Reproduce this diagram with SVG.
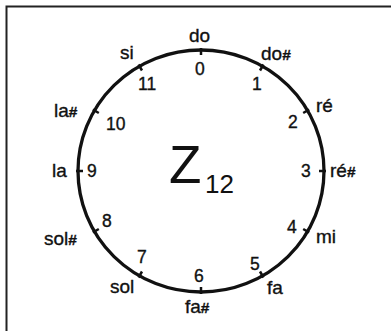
<svg xmlns="http://www.w3.org/2000/svg" width="391" height="331" viewBox="0 0 391 331">
<style>
.lbl{font-family:"Liberation Sans",Arial,sans-serif;font-size:19px;fill:#111;stroke:#111;stroke-width:0.35}
.num{font-family:"Liberation Sans",Arial,sans-serif;font-size:17.5px;fill:#111;stroke:#111;stroke-width:0.35}
.sh{font-weight:bold;font-size:15.5px}
.tick{stroke:#111;stroke-width:2.5;stroke-linecap:butt}
</style>
<rect width="391" height="331" fill="#fff"/>
<path d="M6.5,331 V6.5 H391" fill="none" stroke="#222" stroke-width="2"/>
<g id="circle">
<ellipse cx="201" cy="171" rx="123" ry="121" fill="none" stroke="#111" stroke-width="3.3"/>
</g>
<g id="title">
<text x="169" y="183" font-family="Liberation Sans,Arial,sans-serif" font-size="53" fill="#111">Z</text>
<text x="205" y="193" font-family="Liberation Sans,Arial,sans-serif" font-size="26" fill="#111">12</text>
</g>
<g id="connectors">
<line class="tick" x1="201" y1="48" x2="201" y2="55"/>
<line class="tick" x1="263.5" y1="64.5" x2="260" y2="70.5"/>
<line class="tick" x1="309.2" y1="109.5" x2="303.2" y2="113"/>
<line class="tick" x1="326" y1="171" x2="319" y2="171"/>
<line class="tick" x1="309.2" y1="232.5" x2="303.2" y2="229"/>
<line class="tick" x1="263.5" y1="277.5" x2="260" y2="271.5"/>
<line class="tick" x1="201" y1="294" x2="201" y2="287"/>
<line class="tick" x1="138.5" y1="277.5" x2="142" y2="271.5"/>
<line class="tick" x1="92.8" y1="232.5" x2="98.8" y2="229"/>
<line class="tick" x1="76" y1="171" x2="83" y2="171"/>
<line class="tick" x1="92.8" y1="109.5" x2="98.8" y2="113"/>
<line class="tick" x1="138.5" y1="64.5" x2="142" y2="70.5"/>
</g>
<g id="n0"><text class="lbl" x="189" y="42">do</text><text class="num" x="195" y="75">0</text></g>
<g id="n1"><text class="lbl" x="261" y="60">do<tspan class="sh">#</tspan></text><text class="num" x="252" y="90">1</text></g>
<g id="n2"><text class="lbl" x="316" y="112">ré</text><text class="num" x="288" y="128">2</text></g>
<g id="n3"><text class="lbl" x="330" y="177">ré<tspan class="sh">#</tspan></text><text class="num" x="301" y="177">3</text></g>
<g id="n4"><text class="lbl" x="316" y="243">mi</text><text class="num" x="287" y="233">4</text></g>
<g id="n5"><text class="lbl" x="267" y="294">fa</text><text class="num" x="250" y="270">5</text></g>
<g id="n6"><text class="lbl" x="185" y="313">fa<tspan class="sh">#</tspan></text><text class="num" x="194" y="282">6</text></g>
<g id="n7"><text class="lbl" x="110" y="293">sol</text><text class="num" x="137" y="263">7</text></g>
<g id="n8"><text class="lbl" x="44" y="245">sol<tspan class="sh">#</tspan></text><text class="num" x="102" y="227">8</text></g>
<g id="n9"><text class="lbl" x="52" y="177">la</text><text class="num" x="87" y="177">9</text></g>
<g id="n10"><text class="lbl" x="54" y="117">la<tspan class="sh">#</tspan></text><text class="num" x="106" y="130">10</text></g>
<g id="n11"><text class="lbl" x="120" y="59">si</text><text class="num" x="138" y="90">11</text></g>
</svg>
